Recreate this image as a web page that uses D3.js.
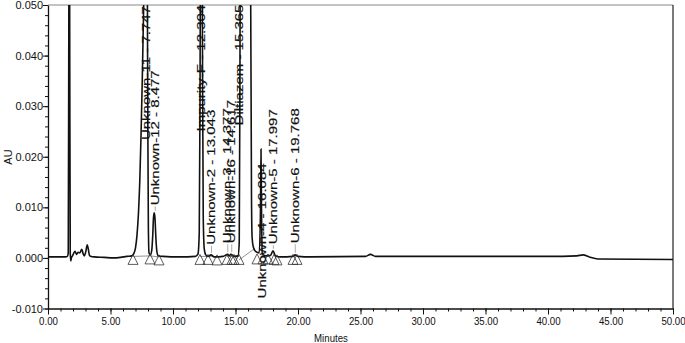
<!DOCTYPE html>
<html>

<head>
  <meta charset="utf-8">
  <title>Chromatogram</title>
  <style>
    body { margin: 0; background: #fff; }
    text { font-family: "Liberation Sans", Arial, sans-serif; fill: #111; }
  </style>
</head>

<body>
  <svg width="685" height="343"></svg>
  <script src="https://d3js.org/d3.v7.min.js"></script>
  <script>
    // detector trace (minutes, AU)
    var traceTime = [0.00, 0.80, 1.40, 1.55, 1.62, 1.66, 1.70, 1.74, 1.78, 1.82, 1.88, 1.96, 2.05, 2.16, 2.28, 2.42, 2.55, 2.70,
      2.80, 2.90, 3.02, 3.14, 3.22, 3.32, 3.45, 3.70, 4.50, 5.20, 5.80, 6.30, 6.70, 6.85, 7.00, 7.12, 7.24, 7.34, 7.44, 7.54,
      7.64, 7.74, 7.84, 7.92, 7.98, 8.03, 8.08, 8.18, 8.30, 8.38, 8.44, 8.50, 8.56, 8.63, 8.70, 8.80, 9.20, 10.50, 11.80,
      12.00, 12.10, 12.16, 12.22, 12.30, 12.36, 12.42, 12.50, 12.62, 12.80, 13.04, 13.30, 14.00, 14.38, 14.50, 14.62, 14.90,
      15.20, 15.30, 15.36, 15.42, 15.60, 15.90, 16.20, 16.28, 16.33, 16.42, 16.60, 16.90, 17.00, 17.04, 17.08, 17.14, 17.40,
      17.80, 18.00, 18.20, 18.60, 19.60, 19.77, 20.00, 21.00, 25.40, 25.80, 26.20, 30.00, 35.00, 40.00, 42.30, 42.80, 43.30,
      44.00, 50.00];
    var traceAU = [0.0002, 0.0002, 0.0002, 0.0003, 0.0010, 0.0400, 0.0900, 0.0400, 0.0010, -0.0006, 0.0001, 0.0004, 0.0009,
      0.0013, 0.0007, 0.0011, 0.0010, 0.0017, 0.0009, 0.0004, 0.0012, 0.0026, 0.0018, 0.0005, 0.0003, 0.0002, 0.0001, 0.0000,
      0.0001, 0.0003, 0.0004, 0.0008, 0.0020, 0.0045, 0.0090, 0.0150, 0.0240, 0.0350, 0.0480, 0.0620, 0.0750, 0.0700, 0.0300,
      0.0060, 0.0010, 0.0006, 0.0015, 0.0045, 0.0080, 0.0089, 0.0078, 0.0040, 0.0015, 0.0005, 0.0003, 0.0002, 0.0003,
      0.0008, 0.0050, 0.0300, 0.0800, 0.0850, 0.0400, 0.0080, 0.0018, 0.0006, 0.0003, 0.0006, 0.0002, 0.0003, 0.0007, 0.0004,
      0.0007, 0.0003, 0.0004, 0.0030, 0.0400, 0.1000, 0.1200, 0.0900, 0.0600, 0.0120, 0.0040, 0.0022, 0.0013, 0.0010,
      0.0100, 0.0215, 0.0100, 0.0009, 0.0004, 0.0005, 0.0014, 0.0004, 0.0002, 0.0003, 0.0006, 0.0003, 0.0002, 0.0003,
      0.0007, 0.0003, 0.0003, 0.0003, 0.0003, 0.0004, 0.0006, 0.0002, -0.0002, -0.0003];

    // peak labels
    var peakNames = ["Unknown-11 - 7.747", "Unknown-12 - 8.477", "Impurity-F - 12.304", "Unknown-2 - 13.043",
      "Unknown-3 - 14.377", "Unknown-16 - 14.617", "Diltiazem - 15.365", "Unknown-4 - 16.084",
      "Unknown-5 - 17.997", "Unknown-6 - 19.768"];
    var labelTime = [7.75, 8.50, 12.20, 13.00, 14.30, 14.62, 15.25, 17.05, 17.95, 19.70];
    var labelBaseAU = [0.0233, 0.0104, 0.0250, 0.0026, 0.0029, 0.0029, 0.0262, -0.0080, 0.0027, 0.0029];
    var peakApexAU = [0.075, 0.0089, 0.085, 0.0006, 0.0007, 0.0007, 0.12, 0.0215, 0.0014, 0.0006];

    // integration markers (triangles)
    var markerTime = [6.80, 8.16, 8.88, 12.16, 12.80, 13.52, 14.32, 14.72, 14.88, 15.28, 16.72, 17.20, 17.60, 18.08, 18.32, 19.60, 19.92];
    var markerAU = [0.0003, 0.0004, 0.0002, 0.0003, 0.0003, 0.0002, 0.0003, 0.0003, 0.0003, 0.0003, 0.0004, 0.0004, 0.0004, 0.0003, 0.0002, 0.0003, 0.0003];
    // integration baselines drawn between markers
    var segStartTime = [6.80, 8.16, 12.16, 12.80, 14.32, 14.88, 15.28];
    var segStartAU = [0.0003, 0.0004, 0.0003, 0.0003, 0.0003, 0.0003, -0.0004];
    var segEndTime = [8.16, 8.88, 12.80, 13.52, 14.72, 15.28, 16.56];
    var segEndAU = [0.0004, 0.0002, 0.0003, 0.0002, 0.0003, 0.0003, 0.0019];

    var xTicks = [0, 5, 10, 15, 20, 25, 30, 35, 40, 45, 50];
    var xTickLabels = ["0.00", "5.00", "10.00", "15.00", "20.00", "25.00", "30.00", "35.00", "40.00", "45.00", "50.00"];
    var yTicks = [-0.010, 0.000, 0.010, 0.020, 0.030, 0.040, 0.050];
    var yTickLabels = ["-0.010", "0.000", "0.010", "0.020", "0.030", "0.040", "0.050"];

    var svg = d3.select("svg");
    var xScale = d3.scaleLinear().domain([0, 50]).range([48, 673]);
    var yScale = d3.scaleLinear().domain([-0.010, 0.050]).range([308.5, 5]);

    svg.append("clipPath").attr("id", "plot")
      .append("rect").attr("x", 48).attr("y", 5).attr("width", 625).attr("height", 303.5);

    // frame
    svg.append("line").attr("x1", 48).attr("x2", 673).attr("y1", 5).attr("y2", 5)
      .attr("stroke", "#8a8a8a").attr("stroke-width", 1.2);
    svg.append("line").attr("x1", 673).attr("x2", 673).attr("y1", 5).attr("y2", 308.5)
      .attr("stroke", "#222").attr("stroke-width", 1.2);

    // minor ticks
    var xMinor = d3.range(0, 51, 1);
    var yMinor = d3.range(-0.010, 0.0501, 0.002);
    svg.append("g").attr("transform", "translate(0,308.5)")
      .call(d3.axisBottom(xScale).tickValues(xMinor).tickSize(3).tickSizeOuter(0).tickFormat(""))
      .call(g => g.select(".domain").remove());
    svg.append("g").attr("transform", "translate(48,0)")
      .call(d3.axisLeft(yScale).tickValues(yMinor).tickSize(3).tickSizeOuter(0).tickFormat(""))
      .call(g => g.select(".domain").remove());

    // major axes
    var xAxis = svg.append("g").attr("transform", "translate(0,308.5)")
      .call(d3.axisBottom(xScale).tickValues(xTicks).tickSize(6).tickPadding(3).tickSizeOuter(0)
        .tickFormat((d, i) => xTickLabels[i]));
    xAxis.selectAll("text").attr("font-size", 11).attr("transform", "scale(0.88,1)");
    var yAxis = svg.append("g").attr("transform", "translate(48,0)")
      .call(d3.axisLeft(yScale).tickValues(yTicks).tickSize(5).tickPadding(0).tickSizeOuter(0)
        .tickFormat((d, i) => yTickLabels[i]));
    yAxis.selectAll("text").attr("font-size", 11);
    svg.selectAll(".domain").attr("stroke", "#111").attr("stroke-width", 1.3);
    svg.selectAll(".tick line").attr("stroke", "#111");

    svg.append("text").attr("transform", "translate(331,342) scale(0.88,1)")
      .attr("text-anchor", "middle").attr("font-size", 11).text("Minutes");
    svg.append("text").attr("transform", "translate(12,157) rotate(-90)")
      .attr("text-anchor", "middle").attr("font-size", 11).text("AU");

    // integration baselines
    var plot = svg.append("g").attr("clip-path", "url(#plot)");
    segStartTime.forEach((t, i) => {
      plot.append("line")
        .attr("x1", xScale(t)).attr("y1", yScale(segStartAU[i]))
        .attr("x2", xScale(segEndTime[i])).attr("y2", yScale(segEndAU[i]))
        .attr("stroke", "#777").attr("stroke-width", 0.8);
    });

    // trace
    var trace = traceTime.map((t, i) => ({ t: t, v: traceAU[i] }));
    var line = d3.line()
      .x(d => xScale(d.t))
      .y(d => yScale(d.v))
      .curve(d3.curveMonotoneX);
    plot.append("path")
      .attr("d", line(trace))
      .attr("fill", "none")
      .attr("stroke", "#111")
      .attr("stroke-width", 1.6);

    // leader lines from labels to small peaks
    peakNames.forEach((name, i) => {
      if (labelBaseAU[i] > peakApexAU[i]) {
        svg.append("line")
          .attr("x1", xScale(labelTime[i]) + 1).attr("x2", xScale(labelTime[i]) + 1)
          .attr("y1", yScale(labelBaseAU[i]) + 1).attr("y2", yScale(peakApexAU[i]) - 2)
          .attr("stroke", "#888").attr("stroke-width", 0.7);
      }
    });

    // triangles
    svg.selectAll(".marker")
      .data(markerTime)
      .enter()
      .append("path")
      .attr("class", "marker")
      .attr("d", (d, i) => {
        var px = xScale(d), py = yScale(markerAU[i]) - 2;
        return "M" + px + "," + py + "L" + (px + 5) + "," + (py + 10) + "L" + (px - 5) + "," + (py + 10) + "Z";
      })
      .attr("fill", "none")
      .attr("stroke", "#333")
      .attr("stroke-width", 0.8);

    // peak labels
    peakNames.forEach((name, i) => {
      svg.append("text")
        .attr("transform", "translate(" + (xScale(labelTime[i]) + 1) + "," + yScale(labelBaseAU[i]) + ") rotate(-90) scale(1,0.7)")
        .attr("dy", "0.35em")
        .attr("font-size", 15)
        .attr("stroke", "#111")
        .attr("stroke-width", 0.25)
        .text(name);
    });
  </script>

</body>

</html>
